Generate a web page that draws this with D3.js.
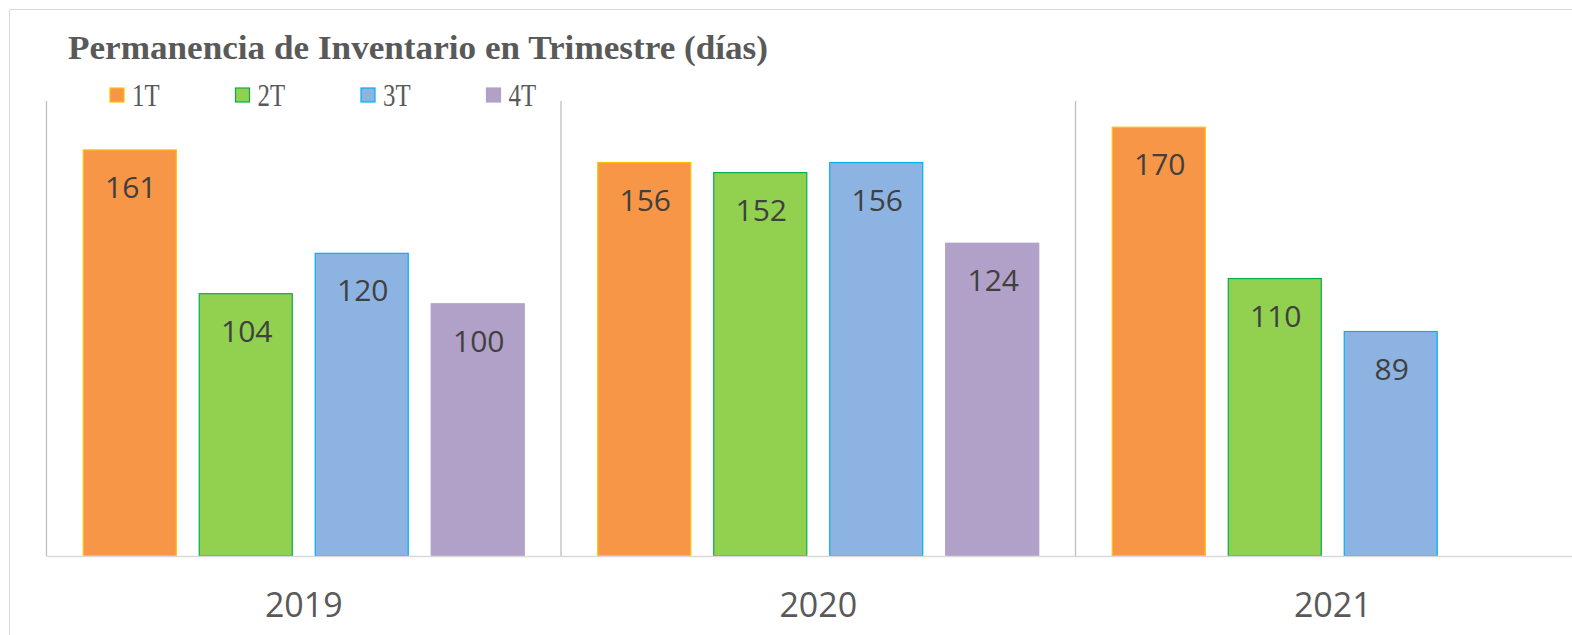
<!DOCTYPE html>
<html>
<head>
<meta charset="utf-8">
<script src="https://cdn.jsdelivr.net/npm/d3@7"></script>
<style>
  body { margin: 0; background: #fff; }
  svg { display: block; }
</style>
</head>
<body>
<svg id="chart" width="1572" height="635"></svg>
<script>
// data
var years = ["2019", "2020", "2021"];
var quarters = ["1T", "2T", "3T", "4T"];
var t1 = [161, 156, 170];
var t2 = [104, 152, 110];
var t3 = [120, 156, 89];
var t4 = [100, 124, null];
var fills = ["#F79646", "#92D050", "#8DB3E2", "#B1A0C7"];
var strokes = ["#FFC000", "#00B050", "#00B0F0", "#B1A0C7"];

var series = [t1, t2, t3, t4];
var rows = [];
years.forEach(function(y, i) {
  quarters.forEach(function(q, j) {
    if (series[j][i] != null) rows.push({ year: y, q: q, value: series[j][i], idx: j });
  });
});

var svg = d3.select("#chart");
var margin = { top: 102, left: 46.5, bottom: 79 };
var height = 635 - margin.bottom;
var groupW = 514.5;

// outer frame
svg.append("path")
  .attr("d", "M9.5,635 L9.5,9.5 L1572,9.5")
  .attr("fill", "none")
  .attr("stroke", "#D9D9D9")
  .attr("stroke-width", 1);

var x0 = d3.scaleBand().domain(years).range([margin.left, margin.left + 3 * groupW]);
var x1 = d3.scaleBand().domain(quarters).range([0, x0.bandwidth()])
  .paddingInner(0.198).paddingOuter(0.317);
var y = d3.scaleLinear().domain([0, 180]).range([height, margin.top]);

// vertical separators
svg.selectAll(".sep")
  .data(years.concat(["end"]))
  .enter().append("line")
  .attr("class", "sep")
  .attr("x1", function(d, i) { return margin.left + i * x0.bandwidth(); })
  .attr("x2", function(d, i) { return margin.left + i * x0.bandwidth(); })
  .attr("y1", margin.top - 1)
  .attr("y2", height)
  .attr("stroke", "#BFBFBF")
  .attr("stroke-width", 1.3);

// bars
svg.selectAll(".bar")
  .data(rows)
  .enter().append("rect")
  .attr("class", "bar")
  .attr("x", function(d) { return x0(d.year) + x1(d.q); })
  .attr("y", function(d) { return y(d.value); })
  .attr("width", x1.bandwidth())
  .attr("height", function(d) { return height - y(d.value); })
  .attr("fill", function(d) { return fills[d.idx]; })
  .attr("stroke", function(d) { return strokes[d.idx]; })
  .attr("stroke-width", 1.2);

// value labels
svg.selectAll(".val")
  .data(rows)
  .enter().append("text")
  .attr("class", "val")
  .attr("x", function(d) { return x0(d.year) + x1(d.q) + x1.bandwidth() / 2 + 1; })
  .attr("y", function(d) { return y(d.value) + 48; })
  .attr("text-anchor", "middle")
  .attr("font-family", "'Open Sans', 'Noto Sans', sans-serif")
  .attr("font-size", 30)
  .attr("fill", "#404040")
  .text(function(d) { return d.value; });

// baseline
svg.append("line")
  .attr("x1", margin.left)
  .attr("x2", 1572)
  .attr("y1", height + 0.5)
  .attr("y2", height + 0.5)
  .attr("stroke", "#D9D9D9")
  .attr("stroke-width", 1.5);

// category axis
var xAxis = svg.append("g")
  .attr("transform", "translate(0," + height + ")")
  .call(d3.axisBottom(x0).tickSize(0).tickPadding(37));
xAxis.select(".domain").remove();
xAxis.selectAll("text")
  .attr("font-family", "'Open Sans', 'Noto Sans', sans-serif")
  .attr("font-size", 34)
  .attr("fill", "#595959");

// title
svg.append("text")
  .attr("x", 68)
  .attr("y", 59)
  .attr("font-family", "'Liberation Serif', 'Times New Roman', serif")
  .attr("font-weight", "bold")
  .attr("font-size", 34)
  .attr("fill", "#595959")
  .attr("textLength", 700)
  .attr("lengthAdjust", "spacingAndGlyphs")
  .text("Permanencia de Inventario en Trimestre (días)");

// legend
var legend = svg.selectAll(".leg")
  .data(quarters)
  .enter().append("g")
  .attr("class", "leg")
  .attr("transform", function(d, i) { return "translate(" + (110 + i * 125.5) + ",88)"; });
legend.append("rect")
  .attr("width", 14)
  .attr("height", 14)
  .attr("fill", function(d, i) { return fills[i]; })
  .attr("stroke", function(d, i) { return strokes[i]; })
  .attr("stroke-width", 1.2);
legend.append("text")
  .attr("transform", "translate(22,18) scale(0.8,1)")
  .attr("font-family", "'Liberation Serif', 'Times New Roman', serif")
  .attr("font-size", 31)
  .attr("fill", "#595959")
  .text(function(d) { return d; });
</script>
</body>
</html>
